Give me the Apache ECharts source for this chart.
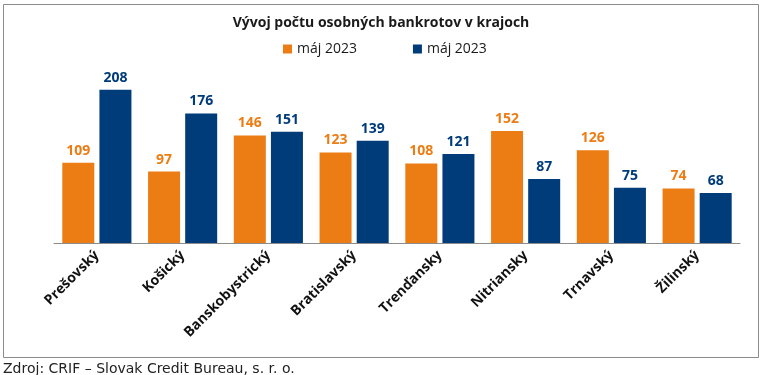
<!DOCTYPE html>
<html><head><meta charset="utf-8">
<script src="https://cdn.jsdelivr.net/npm/echarts@6/dist/echarts.min.js"></script>
<style>html,body{margin:0;padding:0;background:#fff}#c{width:762px;height:375px}</style>
</head><body><div id="c"></div>
<script>
const categories = ["Prešovský","Košický","Banskobystrický","Bratislavský","Trenďansky","Nitriansky","Trnavský","Žilinský"];
const seriesNames = ["máj 2023","máj 2023 "];
const seriesA = [109,97,146,123,108,152,126,74];
const seriesB = [208,176,151,139,121,87,75,68];
const titleText = "Vývoj počtu osobných bankrotov v krajoch";
const sourceText = "Zdroj: CRIF – Slovak Credit Bureau, s. r. o.";

const ORANGE = "#EC7D14";
const NAVY = "#003B7A";
const FONT = "'Open Sans', sans-serif";

const chart = echarts.init(document.getElementById('c'), null, {renderer:'canvas'});
chart.setOption({
  animation:false,
  title:[
    {text:titleText,left:'center',top:11,textStyle:{fontFamily:FONT,fontSize:14,fontWeight:'bold',color:'#1a1a1a'}},
    {text:sourceText,left:-2,top:357,textStyle:{fontFamily:"DejaVu Sans",fontSize:14,fontWeight:'normal',color:'#222'}}
  ],
  graphic:[{type:'rect',shape:{x:3.5,y:4.5,width:755,height:353},style:{fill:'none',stroke:'#8c8c8c',lineWidth:1},silent:true,z:-1}],
  legend:{
    data:seriesNames,left:278,top:37,itemWidth:9,itemHeight:9,itemGap:56,icon:'rect',
    textStyle:{fontFamily:FONT,fontSize:14,color:'#1a1a1a'},
    formatter:n=>n.trim()
  },
  grid:{left:54,right:22,top:81,bottom:132,containLabel:false},
  xAxis:{
    type:'category',data:categories,
    axisLine:{lineStyle:{color:'#8c8c8c',width:1}},
    axisTick:{length:5,lineStyle:{color:'#8c8c8c'}},
    axisLabel:{rotate:45,margin:10,interval:0,fontFamily:FONT,fontSize:14,fontWeight:'bold',color:'#111'}
  },
  yAxis:{type:'value',min:0,max:220,show:false,splitLine:{show:false}},
  series:[
    {name:seriesNames[0],type:'bar',data:seriesA,barWidth:32,barGap:'16%',itemStyle:{color:ORANGE},
     label:{show:true,position:'top',distance:5,fontFamily:FONT,fontSize:14,fontWeight:'bold',color:ORANGE}},
    {name:seriesNames[1],type:'bar',data:seriesB,barWidth:32,barGap:'16%',itemStyle:{color:NAVY},
     label:{show:true,position:'top',distance:5,fontFamily:FONT,fontSize:14,fontWeight:'bold',color:NAVY}}
  ]
});
</script></body></html>
